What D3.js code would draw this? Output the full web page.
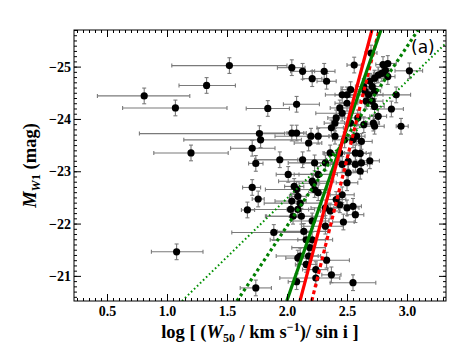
<!DOCTYPE html>
<html><head><meta charset="utf-8">
<script src="https://cdn.jsdelivr.net/npm/d3@7"></script>
<style>body{margin:0;background:#fff} svg{display:block}</style>
</head><body><svg id="c" width="449" height="353"></svg>
<script>
// ---- data ----
const xVals = [1.52,1.33,0.81,1.07,1.84,1.77,1.78,1.71,1.20,1.74,1.71,1.76,1.67,1.89,1.08,1.74,2.08,
 2.04,2.13,2.21,2.31,2.33,2.56,2.70,2.80,2.84,2.82,2.79,2.84,3.02,2.50,2.53,2.64,2.65,2.69,2.71,2.73,2.68,2.73,2.76,2.91,
 2.46,2.44,2.50,2.46,2.41,2.40,2.53,2.37,2.73,2.66,2.71,2.87,2.76,2.72,2.73,2.59,2.64,2.95,
 2.04,2.08,2.20,2.26,2.18,2.40,2.58,2.62,2.36,2.44,1.94,2.13,2.57,2.69,2.23,2.32,2.46,2.51,2.57,2.62,2.61,2.51,
 2.01,2.26,2.21,2.50,2.08,2.23,2.26,2.46,2.09,2.04,2.11,2.41,2.44,2.03,2.09,2.32,2.36,2.05,2.12,2.57,2.50,2.21,2.47,2.32,
 2.06,2.09,2.08,2.14,2.16,2.21,2.19,2.11,2.18,2.33,2.16,2.24,2.37,2.24,2.55,2.48,2.55,2.61,2.22,2.55];
const yVals = [-25.02,-24.64,-24.44,-24.21,-24.20,-23.72,-23.60,-23.44,-23.35,-23.15,-22.69,-22.47,-22.26,-21.83,-21.46,-20.77,-24.28,
 -24.98,-24.91,-24.77,-24.91,-24.72,-25.03,-25.26,-25.04,-25.06,-24.93,-24.87,-24.81,-24.92,-24.46,-24.56,-24.62,-24.53,-24.72,-24.62,-24.53,-24.46,-24.78,-24.84,-24.46,
 -24.46,-24.21,-24.30,-24.11,-24.02,-23.92,-23.92,-23.83,-24.24,-24.34,-24.34,-24.19,-24.05,-23.92,-23.86,-24.02,-23.89,-23.86,
 -23.73,-23.73,-23.67,-23.67,-23.54,-23.67,-23.67,-23.57,-23.35,-23.35,-23.22,-23.22,-23.35,-23.20,-23.16,-23.16,-23.13,-23.19,-23.13,-23.16,-23.00,-22.97,
 -22.94,-22.94,-22.81,-22.78,-22.65,-22.65,-22.59,-22.55,-22.52,-22.43,-22.39,-22.46,-22.36,-22.27,-22.27,-22.30,-22.24,-22.14,-22.14,-22.17,-22.30,-22.05,-22.03,-21.95,
 -22.71,-21.34,-20.89,-21.85,-21.69,-21.69,-21.54,-21.38,-21.38,-21.30,-21.22,-21.12,-21.02,-20.96,-20.87,-23.60,-23.60,-23.34,-22.77,-22.33];
const xErrLo = [0.48,0.23,0.39,0.44,0.18,1.00,0.64,0.18,0.31,0.06,0.08,0.05,0.05,0.35,0.21,0.13,0.11,
 0.12,0.10,0.08,0.10,0.08,0.06,0.05,0.06,0.05,0.06,0.07,0.06,0.12,0.10,0.08,0.07,0.12,0.06,0.09,0.05,0.15,0.08,0.06,0.16,
 0.14,0.08,0.10,0.22,0.07,0.09,0.05,0.12,0.08,0.06,0.10,0.12,0.07,0.05,0.09,0.11,0.06,0.04,
 0.25,0.08,0.30,0.09,0.12,0.15,0.07,0.10,0.06,0.13,0.20,0.40,0.09,0.08,0.22,0.18,0.10,0.07,0.12,0.09,0.06,0.15,
 0.10,0.20,0.28,0.09,0.26,0.12,0.08,0.10,0.07,0.14,0.30,0.08,0.10,0.35,0.09,0.12,0.08,0.22,0.30,0.07,0.11,0.18,0.09,0.20,
 0.08,0.10,0.07,0.22,0.30,0.12,0.15,0.20,0.10,0.15,0.09,0.11,0.08,0.30,0.19,0.10,0.08,0.09,0.12,0.07];
const xErrHi = [0.48,0.24,0.38,0.43,0.18,0.21,0.34,0.19,0.31,0.06,0.07,0.05,0.06,0.31,0.22,0.13,0.19,
 0.11,0.10,0.08,0.09,0.08,0.06,0.05,0.06,0.07,0.05,0.06,0.06,0.11,0.09,0.08,0.07,0.10,0.06,0.08,0.05,0.12,0.08,0.06,0.12,
 0.12,0.08,0.09,0.15,0.07,0.08,0.05,0.10,0.08,0.06,0.09,0.10,0.07,0.05,0.08,0.10,0.06,0.06,
 0.10,0.08,0.15,0.09,0.11,0.12,0.07,0.09,0.06,0.11,0.15,0.20,0.09,0.08,0.15,0.14,0.10,0.07,0.10,0.09,0.06,0.12,
 0.09,0.16,0.18,0.09,0.15,0.11,0.08,0.10,0.07,0.12,0.18,0.08,0.10,0.20,0.09,0.11,0.08,0.16,0.20,0.07,0.10,0.14,0.09,0.15,
 0.08,0.10,0.07,0.20,0.22,0.11,0.13,0.15,0.10,0.19,0.09,0.10,0.08,0.20,0.19,0.10,0.08,0.09,0.11,0.07];
const yErr = 0.15;
const xTicks = [0.5,1.0,1.5,2.0,2.5,3.0];
const xTickLabels = ["0.5","1.0","1.5","2.0","2.5","3.0"];
const yTicks = [-25,-24,-23,-22,-21];
const yTickLabels = ["\u221225","\u221224","\u221223","\u221222","\u221221"];
// fitted relations, as two endpoints [logW, M]
const redSolid   = [[2.108,-20.52],[2.708,-25.70]];
const redDotted  = [[2.206,-20.52],[2.767,-25.70]];
const greenSolid = [[1.998,-20.52],[2.783,-25.70]];
const greenDashed= [[1.583,-20.52],[3.092,-25.70]];
const greenDotted= [[1.125,-20.52],[3.325,-25.45]];

// ---- drawing ----
const svg = d3.select("#c");
const L=74,R=446,T=30,B=301;
const x = d3.scaleLinear().domain([0.225,3.325]).range([L,R]);
const y = d3.scaleLinear().domain([-20.52,-25.70]).range([B,T]);
const font = "'Liberation Serif', 'Times New Roman', serif";

svg.append("defs").append("clipPath").attr("id","clip")
  .append("rect").attr("x",L).attr("y",T).attr("width",R-L).attr("height",B-T);

const pts = xVals.map((v,i)=>({x:v,y:yVals[i],lo:xErrLo[i],hi:xErrHi[i]}));
const eb = svg.append("g").attr("clip-path","url(#clip)").attr("stroke","#7a7a7a").attr("stroke-width",1.1);
pts.forEach(p=>{
  const cx=x(p.x), cy=y(p.y);
  const x1=x(p.x-p.lo), x2=x(p.x+p.hi), y1=y(p.y-yErr), y2=y(p.y+yErr);
  eb.append("line").attr("x1",x1).attr("x2",x2).attr("y1",cy).attr("y2",cy);
  eb.append("line").attr("x1",x1).attr("x2",x1).attr("y1",cy-2).attr("y2",cy+2);
  eb.append("line").attr("x1",x2).attr("x2",x2).attr("y1",cy-2).attr("y2",cy+2);
  eb.append("line").attr("x1",cx).attr("x2",cx).attr("y1",y1).attr("y2",y2);
  eb.append("line").attr("x1",cx-2).attr("x2",cx+2).attr("y1",y1).attr("y2",y1);
  eb.append("line").attr("x1",cx-2).attr("x2",cx+2).attr("y1",y2).attr("y2",y2);
});
svg.append("g").attr("clip-path","url(#clip)").selectAll("circle").data(pts).join("circle")
  .attr("cx",d=>x(d.x)).attr("cy",d=>y(d.y)).attr("r",3.6).attr("fill","#000");

const line = d3.line().x(d=>x(d[0])).y(d=>y(d[1]));
const lg = svg.append("g").attr("clip-path","url(#clip)").attr("fill","none");
lg.append("path").datum(greenDotted).attr("d",line).attr("stroke","#009000").attr("stroke-width",2).attr("stroke-dasharray","1.6,2.6");
lg.append("path").datum(greenDashed).attr("d",line).attr("stroke","#008000").attr("stroke-width",3.2).attr("stroke-dasharray","3,3");
lg.append("path").datum(redDotted).attr("d",line).attr("stroke","#ff0000").attr("stroke-width",3.2).attr("stroke-dasharray","4,3");
lg.append("path").datum(greenSolid).attr("d",line).attr("stroke","#008000").attr("stroke-width",3.2);
lg.append("path").datum(redSolid).attr("d",line).attr("stroke","#ff0000").attr("stroke-width",3.2);

// axes
const minorX = d3.range(0.25,3.3001,0.05).map(v=>+v.toFixed(2));
const minorY = d3.range(-25.7,-20.5,0.1).map(v=>+v.toFixed(1));
function styleAxis(g){ g.select(".domain").remove(); g.selectAll("line").attr("stroke","#000").attr("stroke-width",1); }
svg.append("g").attr("transform",`translate(0,${B})`).call(d3.axisBottom(x).tickValues(minorX).tickSize(-3).tickFormat("")).call(styleAxis);
svg.append("g").attr("transform",`translate(0,${T})`).call(d3.axisTop(x).tickValues(minorX).tickSize(-3).tickFormat("")).call(styleAxis);
svg.append("g").attr("transform",`translate(${L},0)`).call(d3.axisLeft(y).tickValues(minorY).tickSize(-3).tickFormat("")).call(styleAxis);
svg.append("g").attr("transform",`translate(${R},0)`).call(d3.axisRight(y).tickValues(minorY).tickSize(-3).tickFormat("")).call(styleAxis);

const xb = svg.append("g").attr("transform",`translate(0,${B})`)
  .call(d3.axisBottom(x).tickValues(xTicks).tickSize(-7).tickPadding(5).tickFormat((d,i)=>xTickLabels[i])).call(styleAxis);
svg.append("g").attr("transform",`translate(0,${T})`).call(d3.axisTop(x).tickValues(xTicks).tickSize(-7).tickFormat("")).call(styleAxis);
const yl = svg.append("g").attr("transform",`translate(${L},0)`)
  .call(d3.axisLeft(y).tickValues(yTicks).tickSize(-7).tickPadding(3).tickFormat((d,i)=>yTickLabels[i])).call(styleAxis);
svg.append("g").attr("transform",`translate(${R},0)`).call(d3.axisRight(y).tickValues(yTicks).tickSize(-7).tickFormat("")).call(styleAxis);
[xb,yl].forEach(g=>g.selectAll("text").attr("font-family",font).attr("font-weight","bold").attr("font-size",14).attr("fill","#000"));

svg.append("rect").attr("x",L).attr("y",T).attr("width",R-L).attr("height",B-T).attr("fill","none").attr("stroke","#000").attr("stroke-width",1);

// axis labels
const xt = svg.append("text").attr("x",(L+R)/2).attr("y",338).attr("text-anchor","middle")
  .attr("font-family",font).attr("font-weight","bold").attr("font-size",18.5).attr("fill","#000");
xt.append("tspan").text("log [ (");
xt.append("tspan").attr("font-style","italic").text("W");
xt.append("tspan").attr("font-size",12).attr("dy",4).text("50");
xt.append("tspan").attr("dy",-4).text(" / km s");
xt.append("tspan").attr("font-size",12).attr("dy",-7).text("\u22121");
xt.append("tspan").attr("dy",7).text(")/ sin i ]");

const yt = svg.append("text").attr("transform",`translate(36,${(T+B)/2}) rotate(-90)`).attr("text-anchor","middle")
  .attr("font-family",font).attr("font-weight","bold").attr("font-size",18.5).attr("fill","#000");
yt.append("tspan").attr("font-style","italic").text("M");
yt.append("tspan").attr("font-style","italic").attr("font-size",12.5).attr("dy",4).text("W");
yt.append("tspan").attr("font-size",12.5).text("1");
yt.append("tspan").attr("dy",-4).text(" (mag)");

svg.append("text").attr("x",411).attr("y",53).attr("font-family","'DejaVu Sans', sans-serif")
  .attr("font-size",17).attr("fill","#000").text("(a)");
</script></body></html>
